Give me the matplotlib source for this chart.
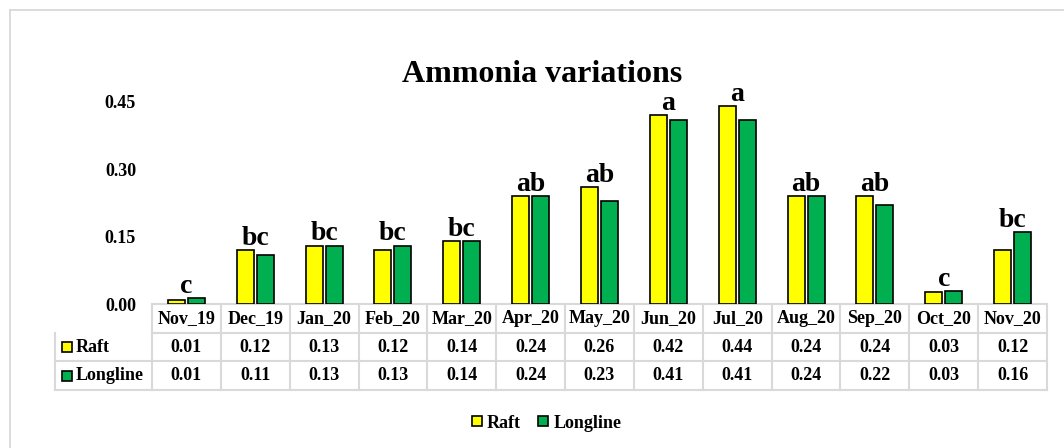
import matplotlib
matplotlib.use("Agg")
import matplotlib.pyplot as plt
from matplotlib.lines import Line2D
import numpy as np

plt.rcParams['font.family'] = ['Liberation Serif', 'DejaVu Serif']
plt.rcParams['font.weight'] = 'bold'

months = ["Nov_19", "Dec_19", "Jan_20", "Feb_20", "Mar_20", "Apr_20", "May_20",
          "Jun_20", "Jul_20", "Aug_20", "Sep_20", "Oct_20", "Nov_20"]
raft = [0.010, 0.12, 0.13, 0.12, 0.14, 0.24, 0.26, 0.42, 0.44, 0.24, 0.24, 0.026, 0.12]
longline = [0.013, 0.11, 0.13, 0.13, 0.14, 0.24, 0.23, 0.41, 0.41, 0.24, 0.22, 0.028, 0.16]
letters = ["c", "bc", "bc", "bc", "bc", "ab", "ab", "a", "a", "ab", "ab", "c", "bc"]
yticks = [0.00, 0.15, 0.30, 0.45]

YELLOW = "#ffff00"
GREEN = "#00b050"
GRID = "#d9d9d9"

W, H = 1064, 448
fig = plt.figure(figsize=(W / 100, H / 100), dpi=100)

# outer chart border (left and top only visible)
fig.add_artist(Line2D([10 / W, 10 / W], [0, 1 - 10 / H], color=GRID, lw=1.3))
fig.add_artist(Line2D([10 / W, 1], [1 - 10 / H, 1 - 10 / H], color=GRID, lw=1.3))

ax = fig.add_axes([152 / W, 1 - 304 / H, (1047 - 152) / W, (304 - 102) / H])
x = np.arange(len(months)) + 0.5
ax.bar(x - 0.145, raft, width=0.247, color=YELLOW, edgecolor="black", linewidth=1.2, zorder=3)
ax.bar(x + 0.145, longline, width=0.247, color=GREEN, edgecolor="black", linewidth=1.2, zorder=3)

for xi, r, l, t in zip(x, raft, longline, letters):
    ax.annotate(t, (xi, max(r, l)), xytext=(0, 4), textcoords="offset points",
                ha="center", va="baseline", fontsize=20, fontweight="bold",
                annotation_clip=False)

ax.set_xlim(0, len(months))
ax.set_ylim(0, 0.45)
ax.set_xticks([])
ax.set_yticks(yticks)
ax.set_yticklabels([f"{v:.2f}" for v in yticks], fontsize=13, fontweight="bold")
ax.tick_params(axis="y", length=0, pad=11.5)
for s in ax.spines.values():
    s.set_visible(False)

# data table under the plot
tr = ax.get_xaxis_transform()
row_h = 28.7 / 202
n = len(months)
lab_left = (55 - 152) / 68.85
gl = dict(color=GRID, lw=1.5, transform=tr, clip_on=False, zorder=1)

ax.plot([0, n], [0, 0], **gl)
for k in (1, 2, 3):
    ax.plot([lab_left if k > 1 else 0, n], [-k * row_h] * 2, **gl)
for i in range(n + 1):
    ax.plot([i, i], [0, -3 * row_h], **gl)
ax.plot([lab_left, lab_left], [-row_h, -3 * row_h], **gl)

for i, m in enumerate(months):
    ax.text(i + 0.5, -0.5 * row_h, m, transform=tr, ha="center", va="center",
            fontsize=13, fontweight="bold")
    ax.text(i + 0.5, -1.5 * row_h, f"{raft[i]:.2f}", transform=tr, ha="center",
            va="center", fontsize=13, fontweight="bold")
    ax.text(i + 0.5, -2.5 * row_h, f"{longline[i]:.2f}", transform=tr, ha="center",
            va="center", fontsize=13, fontweight="bold")

for k, (name, col) in enumerate([("Raft", YELLOW), ("Longline", GREEN)]):
    yy = -(1.5 + k) * row_h
    ax.plot([(67 - 152) / 68.85], [yy], marker="s", ms=7, mfc=col, mec="black",
            mew=1.2, transform=tr, clip_on=False, linestyle="none")
    ax.text((76 - 152) / 68.85, yy, name, transform=tr, ha="left", va="center",
            fontsize=13, fontweight="bold")

fig.text(542 / W, 1 - 75 / H, "Ammonia variations", ha="center", va="center",
         fontsize=23, fontweight="bold")

handles = [Line2D([], [], marker="s", ms=7, mfc=YELLOW, mec="black", mew=1.2, linestyle="none"),
           Line2D([], [], marker="s", ms=7, mfc=GREEN, mec="black", mew=1.2, linestyle="none")]
fig.legend(handles, ["Raft", "Longline"], loc="center", bbox_to_anchor=(546 / W, 1 - 423 / H),
           ncol=2, frameon=False, handlelength=0.7, handletextpad=0.2, columnspacing=0.9,
           prop=dict(size=13, weight="bold"))

fig.savefig("out.png", dpi=100)
